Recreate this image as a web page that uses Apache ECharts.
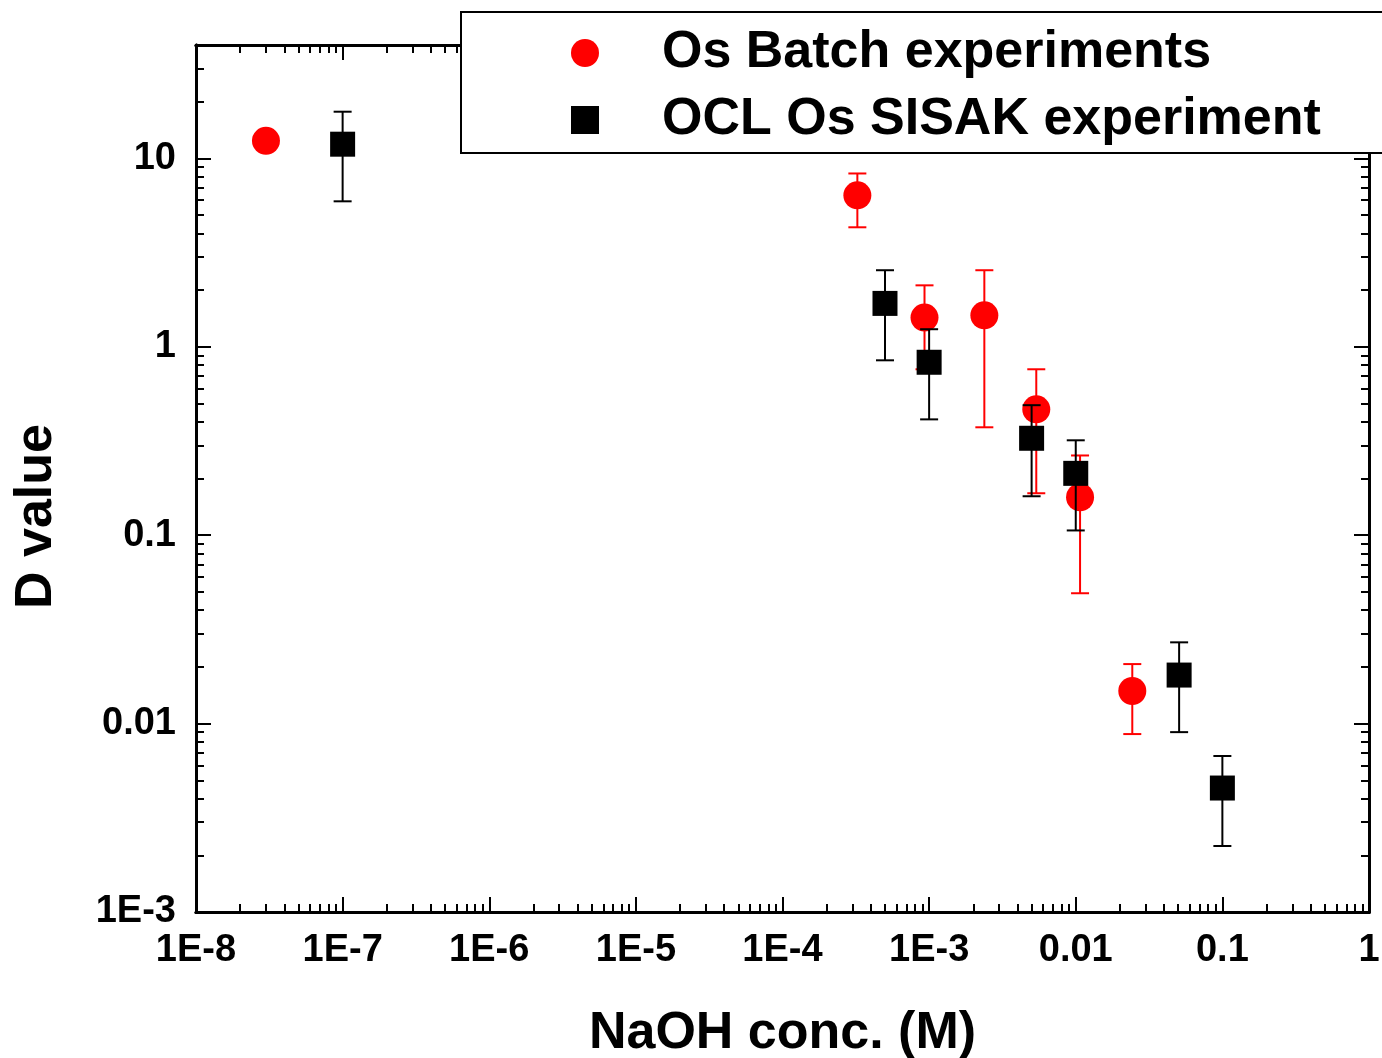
<!DOCTYPE html>
<html>
<head>
<meta charset="utf-8">
<script src="https://cdn.jsdelivr.net/npm/echarts@6/dist/echarts.min.js"></script>
<style>
  html, body { margin: 0; padding: 0; background: #fff; }
  #main { width: 1382px; height: 1058px; }
</style>
</head>
<body>
<div id="main"></div>
<script>
// Os Batch experiments (red circles)
const batchX    = [3.0e-8, 3.24e-4, 9.3e-4, 2.38e-3, 5.38e-3, 0.0107, 0.0243];
const batchD    = [12.4, 6.37, 1.43, 1.47, 0.466, 0.159, 0.0149];
const batchLow  = [null, 4.31, 0.76, 0.374, 0.167, 0.0492, 0.0088];
const batchHigh = [null, 8.32, 2.12, 2.55, 0.76, 0.265, 0.0207];

// OCL Os SISAK experiment (black squares)
const oclX    = [1.0e-7, 5.0e-4, 1.0e-3, 5.0e-3, 0.01, 0.0507, 0.1];
const oclD    = [11.9, 1.70, 0.828, 0.327, 0.213, 0.0181, 0.00455];
const oclLow  = [5.92, 0.848, 0.412, 0.161, 0.106, 0.00901, 0.00224];
const oclHigh = [17.7, 2.55, 1.24, 0.490, 0.319, 0.0270, 0.00673];

// tick labels, one per decade
const xTickLabels = ['1E-8', '1E-7', '1E-6', '1E-5', '1E-4', '1E-3', '0.01', '0.1', '1'];
const yTickLabels = ['1E-3', '0.01', '0.1', '1', '10'];

const FONT = '"Liberation Sans", Arial, sans-serif';
const lg = Math.log10;

// axes are linear in log10 space
const xMin = -8, xMax = 0;
const yMin = -3, yMax = lg(40);

function decades(a, b) {
  const out = [];
  for (let k = Math.ceil(a); k <= Math.floor(b); k++) out.push(k);
  return out;
}
function minors(a, b) {
  const out = [];
  for (let k = Math.floor(a); k < b; k++) {
    for (let j = 2; j <= 9; j++) {
      const v = k + lg(j);
      if (v >= a && v <= b + 1e-9) out.push(v);
    }
  }
  return out;
}

const xMajor = decades(xMin, xMax), xMinor = minors(xMin, xMax);
const yMajor = decades(yMin, yMax), yMinor = minors(yMin, yMax);

function pts(xs, ys) {
  return xs.map((x, i) => [lg(x), lg(ys[i])]);
}
function bars(xs, lo, hi) {
  const out = [];
  xs.forEach((x, i) => {
    if (lo[i] != null) out.push([lg(x), lg(lo[i]), lg(hi[i])]);
  });
  return out;
}

function errorBar(color) {
  return function (params, api) {
    const x = api.value(0);
    const lo = api.coord([x, api.value(1)]);
    const hi = api.coord([x, api.value(2)]);
    const hw = 9;
    const st = { stroke: color, lineWidth: 2 };
    return {
      type: 'group',
      children: [
        { type: 'line', shape: { x1: lo[0], y1: lo[1], x2: hi[0], y2: hi[1] }, style: st },
        { type: 'line', shape: { x1: lo[0] - hw, y1: lo[1], x2: lo[0] + hw, y2: lo[1] }, style: st },
        { type: 'line', shape: { x1: hi[0] - hw, y1: hi[1], x2: hi[0] + hw, y2: hi[1] }, style: st }
      ]
    };
  };
}

function axis(kind, pos, ticks, len, main) {
  const isX = kind === 'x';
  const labels = isX ? xTickLabels : yTickLabels;
  const base = isX ? xMin : yMin;
  return {
    type: 'value',
    position: pos,
    min: isX ? xMin : yMin,
    max: isX ? xMax : yMax,
    axisLine: { show: true, onZero: false, lineStyle: { color: '#000', width: 3 } },
    axisTick: { show: true, inside: true, length: len, customValues: ticks,
                lineStyle: { color: '#000', width: 2 } },
    axisLabel: {
      show: main,
      customValues: isX ? xMajor : yMajor,
      margin: isX ? 20 : 20,
      fontFamily: FONT, fontWeight: 'bold', fontSize: 38, color: '#000',
      formatter: v => labels[Math.round(v - base)]
    },
    splitLine: { show: false }
  };
}

const xb = axis('x', 'bottom', xMajor, 15, true);
xb.name = 'NaOH conc. (M)';
xb.nameLocation = 'middle';
xb.nameGap = 96;
xb.nameTextStyle = { fontFamily: FONT, fontWeight: 'bold', fontSize: 52, color: '#000' };

const yl = axis('y', 'left', yMajor, 15, true);
yl.name = 'D value';
yl.nameLocation = 'middle';
yl.nameRotate = 90;
yl.nameGap = 133;
yl.nameTextStyle = { fontFamily: FONT, fontWeight: 'bold', fontSize: 52, color: '#000',
                     padding: [0, 76, 0, 0] };

const chart = echarts.init(document.getElementById('main'), null, { renderer: 'canvas' });

chart.setOption({
  animation: false,
  backgroundColor: '#fff',
  grid: { left: 196, right: 13, top: 45, bottom: 146, containLabel: false, outerBoundsMode: 'none' },
  xAxis: [
    xb,
    axis('x', 'bottom', xMinor, 8, false),
    axis('x', 'top', xMajor, 15, false),
    axis('x', 'top', xMinor, 8, false)
  ],
  yAxis: [
    yl,
    axis('y', 'left', yMinor, 8, false),
    axis('y', 'right', yMajor, 15, false),
    axis('y', 'right', yMinor, 8, false)
  ],
  legend: {
    data: ['Os Batch experiments', 'OCL Os SISAK experiment'],
    orient: 'vertical',
    left: 461,
    top: 12,
    backgroundColor: '#fff',
    borderColor: '#000',
    borderWidth: 2,
    borderRadius: 0,
    padding: [15, 70, 7, 110],
    itemWidth: 28,
    itemHeight: 28,
    itemGap: 15,
    textStyle: { fontFamily: FONT, fontWeight: 'bold', fontSize: 52, color: '#000',
                 lineHeight: 52, padding: [0, 0, 0, 58] }
  },
  series: [
    {
      name: 'Os Batch errors',
      type: 'custom',
      z: 2,
      renderItem: errorBar('#ff0000'),
      encode: { x: 0, y: [1, 2] },
      data: bars(batchX, batchLow, batchHigh)
    },
    {
      name: 'Os Batch experiments',
      type: 'scatter',
      z: 3,
      symbol: 'circle',
      symbolSize: 28,
      itemStyle: { color: '#ff0000', opacity: 1 },
      data: pts(batchX, batchD)
    },
    {
      name: 'OCL errors',
      type: 'custom',
      z: 4,
      renderItem: errorBar('#000000'),
      encode: { x: 0, y: [1, 2] },
      data: bars(oclX, oclLow, oclHigh)
    },
    {
      name: 'OCL Os SISAK experiment',
      type: 'scatter',
      z: 5,
      symbol: 'rect',
      symbolSize: 25,
      itemStyle: { color: '#000000', opacity: 1 },
      data: pts(oclX, oclD)
    }
  ]
});

window.addEventListener('resize', function () {
  chart.resize();
});
</script>
</body>
</html>
